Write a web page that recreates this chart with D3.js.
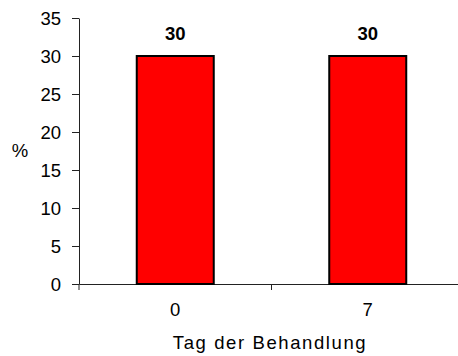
<!DOCTYPE html>
<html>
<head>
<meta charset="utf-8">
<script src="https://cdn.jsdelivr.net/npm/d3@7"></script>
<style>
  body { margin: 0; background: #fff; }
  svg { display: block; font-family: "Liberation Sans", Arial, sans-serif; }
</style>
</head>
<body>
<div id="chart"></div>
<script>
// data
const days = ["0", "7"];
const percents = [30, 30];
const yTicks = [0, 5, 10, 15, 20, 25, 30, 35];

const width = 458, height = 356;
const margin = {top: 18, right: -6, bottom: 72, left: 79};

const x = d3.scaleBand().domain(days).range([margin.left, width - margin.right]).padding(0);
const y = d3.scaleLinear().domain([0, 35]).range([height - margin.bottom, margin.top]);

const svg = d3.select("#chart").append("svg").attr("width", width).attr("height", height);

// y axis
const yAxis = svg.append("g").attr("transform", `translate(${margin.left},0)`)
    .call(d3.axisLeft(y).tickValues(yTicks).tickSize(7).tickSizeOuter(0).tickPadding(11));
yAxis.selectAll("text").attr("font-size", "18.5px").attr("fill", "#000").attr("dy", "0.36em");
yAxis.selectAll("line,path").attr("stroke", "#222");

// x axis (labels centered, ticks between categories)
const xAxis = svg.append("g").attr("transform", `translate(0,${y(0)})`)
    .call(d3.axisBottom(x).tickSize(0).tickSizeOuter(0).tickPadding(19));
xAxis.selectAll("text").attr("font-size", "18.5px").attr("fill", "#000");
xAxis.selectAll("path").attr("stroke", "#222");
const bounds = days.map(d => x(d)).concat([x(days[days.length - 1]) + x.step()]);
xAxis.selectAll(".sep").data(bounds).join("line").attr("class", "sep")
    .attr("x1", d => d).attr("x2", d => d).attr("y1", 0).attr("y2", 6).attr("stroke", "#222");

// bars
const barW = x.bandwidth() * 0.4;
svg.selectAll(".bar").data(percents).join("rect").attr("class", "bar")
    .attr("x", (d, i) => x(days[i]) + (x.bandwidth() - barW) / 2)
    .attr("y", d => y(d))
    .attr("width", barW)
    .attr("height", d => y(0) - y(d))
    .attr("fill", "#ff0000").attr("stroke", "#000").attr("stroke-width", 2);

// value labels
svg.selectAll(".val").data(percents).join("text").attr("class", "val")
    .attr("x", (d, i) => x(days[i]) + x.bandwidth() / 2)
    .attr("y", d => y(d) - 16)
    .attr("text-anchor", "middle").attr("font-size", "18.5px").attr("font-weight", "bold")
    .text(d => d);

// axis titles
svg.append("text").attr("x", 20).attr("y", 157).attr("text-anchor", "middle")
    .attr("font-size", "18.5px").text("%");
svg.append("text").attr("x", 270).attr("y", 349).attr("text-anchor", "middle")
    .attr("font-size", "18.5px").attr("letter-spacing", "1.6px").text("Tag der Behandlung");
</script>
</body>
</html>
